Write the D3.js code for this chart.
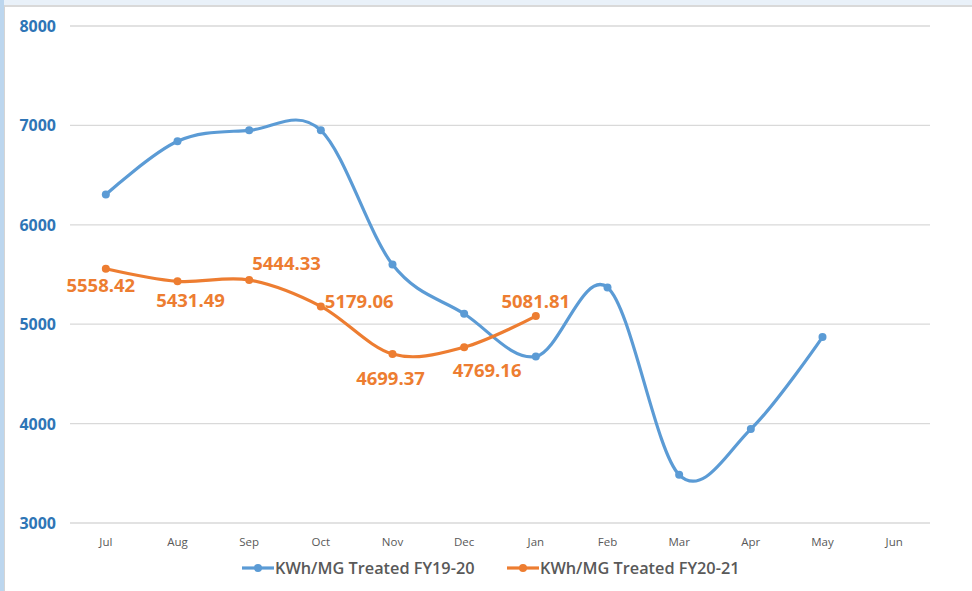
<!DOCTYPE html>
<html>
<head>
<meta charset="utf-8">
<script src="https://cdn.jsdelivr.net/npm/d3@7"></script>
<style>
  html, body { margin: 0; padding: 0; background: #e9f1f9; }
  #chart { position: absolute; left: 4px; top: 5px; width: 968px; height: 586px; background: #fff;
           border-left: 1px solid #d4d4d4; border-top: 2px solid #d9d9d9; box-sizing: border-box; }
  #strip { position: absolute; left: 0; top: 0; width: 4px; height: 591px; background: #bcd6ee; }
</style>
</head>
<body>
<div id="strip"></div>
<div id="chart"></div>
<script>
"use strict";

const months = ["Jul", "Aug", "Sep", "Oct", "Nov", "Dec", "Jan", "Feb", "Mar", "Apr", "May", "Jun"];
const fy1920 = [6305, 6840, 6950, 6950, 5600, 5105, 4675, 5370, 3485, 3945, 4870, null];
const fy2021 = [5558.42, 5431.49, 5444.33, 5179.06, 4699.37, 4769.16, 5081.81];
const yTicks = [3000, 4000, 5000, 6000, 7000, 8000];
const seriesNames = ["KWh/MG Treated FY19-20", "KWh/MG Treated FY20-21"];
// label placement for each orange point
const labelPos = ["below", "belowRight", "aboveRight", "right", "belowFar", "belowFarRight", "above"];

const width = 968, height = 586;
const svg = d3.select("#chart").append("svg")
    .attr("width", width).attr("height", height)
    .style("position", "absolute").style("left", "-1px").style("top", "-2px");

const x = d3.scaleBand().domain(months).range([66, 926]);
const y = d3.scaleLinear().domain([3000, 8000]).range([518, 21]);

// gridlines
svg.selectAll("line.grid")
    .data(yTicks)
    .enter()
    .append("line")
    .attr("x1", 66).attr("x2", 926)
    .attr("y1", d => y(d)).attr("y2", d => y(d))
    .style("stroke", "#d9d9d9").style("stroke-width", 1.3);

svg.selectAll("text.ytick")
    .data(yTicks)
    .enter()
    .append("text")
    .attr("x", 52).attr("y", d => y(d))
    .attr("text-anchor", "end")
    .attr("dominant-baseline", "central")
    .style("font-family", "'Open Sans', sans-serif")
    .style("font-weight", "bold")
    .style("font-size", "16px")
    .style("fill", "#2e75b6")
    .text(d => d);

svg.selectAll("text.xtick")
    .data(months)
    .enter()
    .append("text")
    .attr("x", d => x(d) + x.bandwidth() / 2).attr("y", 536)
    .attr("text-anchor", "middle")
    .attr("dominant-baseline", "central")
    .style("font-family", "'Open Sans', sans-serif")
    .style("font-size", "11.5px")
    .style("fill", "#595959")
    .text(d => d);

const cx = i => x(months[i]) + x.bandwidth() / 2;
const line = d3.line()
    .defined(d => d != null)
    .x((d, i) => cx(i))
    .y(d => y(d))
    .curve(d3.curveCardinal.tension(0));

const colors = ["#5b9bd5", "#ed7d31"];
[fy1920, fy2021].forEach((s, k) => {
  svg.append("path")
      .datum(s)
      .attr("d", line)
      .style("fill", "none")
      .style("stroke", colors[k])
      .style("stroke-width", 3.2)
      .style("stroke-linecap", "round");
  svg.selectAll("circle.s" + k)
      .data(s.map((v, i) => [v, i]).filter(d => d[0] != null))
      .enter()
      .append("circle")
      .attr("cx", d => cx(d[1])).attr("cy", d => y(d[0]))
      .attr("r", 4)
      .style("fill", colors[k]);
});

// data labels for FY20-21 (offsets follow Excel's placement)
const lblDx = {below: -5, belowRight: 13, aboveRight: 3, above: 0, right: 4, belowFar: -2, belowFarRight: 23};
const lblDy = {below: 16, belowRight: 18, aboveRight: -18, above: -16, right: -6, belowFar: 23, belowFarRight: 22};
svg.selectAll("text.lbl")
    .data(fy2021)
    .enter()
    .append("text")
    .attr("x", (d, i) => cx(i) + lblDx[labelPos[i]])
    .attr("y", (d, i) => y(d) + lblDy[labelPos[i]])
    .attr("text-anchor", (d, i) => (labelPos[i] === "right" || labelPos[i] === "aboveRight") ? "start" : "middle")
    .attr("dominant-baseline", "central")
    .style("font-family", "'Open Sans', sans-serif")
    .style("font-weight", "bold")
    .style("font-size", "18.5px")
    .style("fill", "#ed7d31")
    .text(d => d.toFixed(2));

// legend
const legX = [238, 503];
seriesNames.forEach((name, k) => {
  const g = svg.append("g").attr("transform", `translate(${legX[k]},563)`);
  g.append("line").attr("x1", 0).attr("x2", 32)
      .style("stroke", colors[k]).style("stroke-width", 3.2);
  g.append("circle").attr("cx", 16).attr("r", 4).style("fill", colors[k]);
  g.append("text").attr("x", 33).attr("dominant-baseline", "central")
      .style("font-family", "'Open Sans', sans-serif")
      .style("font-weight", "600")
      .style("font-size", "16.3px")
      .style("fill", "#595959")
      .text(name);
});
</script>
</body>
</html>
